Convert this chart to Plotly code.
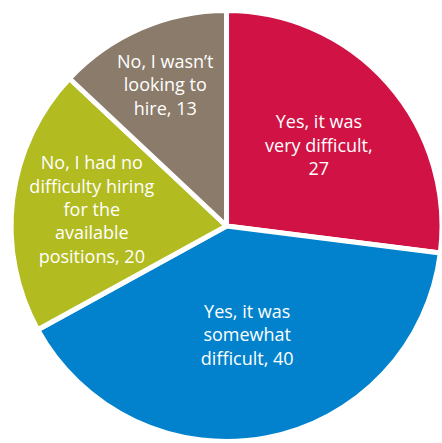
import plotly.graph_objects as go

categories = ["Yes, it was very difficult", "Yes, it was somewhat difficult",
              "No, I had no difficulty hiring for the available positions",
              "No, I wasn't looking to hire"]
values = [27, 40, 20, 13]
wrapped = ["Yes, it was<br>very difficult", "Yes, it was<br>somewhat<br>difficult",
           "No, I had no<br>difficulty hiring<br>for the<br>available<br>positions",
           "No, I wasn\u2019t<br>looking to<br>hire"]
value_sep = [",<br>", ", ", ", ", ", "]
colors = ["#D11245", "#0282CC", "#B2BB20", "#8B7B6A"]

text = [f"{w}{s}{v}" for w, s, v in zip(wrapped, value_sep, values)]

fig = go.Figure(go.Pie(
    labels=categories, values=values, text=text,
    textinfo="text", sort=False, direction="clockwise", rotation=0,
    marker=dict(colors=colors, line=dict(color="white", width=5)),
    insidetextorientation="horizontal", textposition="inside",
    textfont=dict(family="Open Sans", size=18, color="white"),
    hoverinfo="label+value",
    domain=dict(x=[0.025, 1.0], y=[0.0034, 0.9763]),
))
fig.update_layout(width=442, height=443, margin=dict(l=0, r=0, t=0, b=0),
                  showlegend=False, paper_bgcolor="white",
                  uniformtext=dict(minsize=17, mode="show"))
fig.write_html("out.html")
